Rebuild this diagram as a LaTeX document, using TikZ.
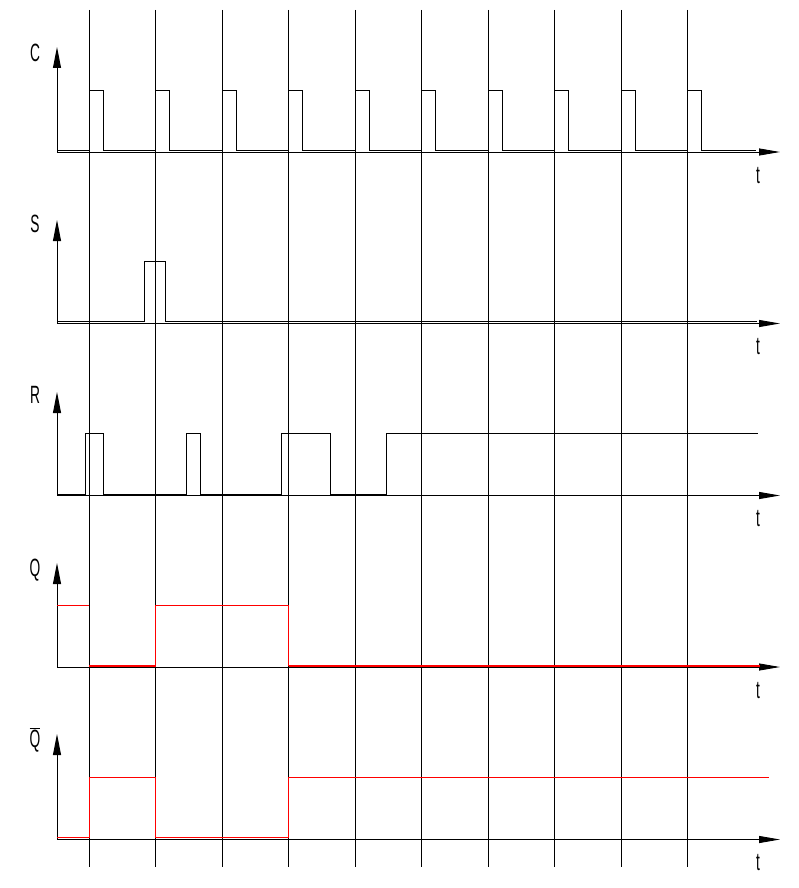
\documentclass[tikz,border=0pt]{standalone}
\usepackage{fontspec}
\setmainfont{Liberation Sans}
\usetikzlibrary{arrows.meta}
\begin{document}
\begin{tikzpicture}[x=1pt,y=-1pt,
  gridline/.style={black,line width=0.9pt},
  haxis/.style={black,line width=0.9pt,-{Triangle[length=21pt,width=7pt]}},
  vaxis/.style={black,line width=0.9pt,-{Triangle[length=21pt,width=8pt]}},
  sig/.style={black,line width=0.9pt},
  qsig/.style={red,line width=1pt},
  lbl/.style={font=\fontsize{25}{25}\selectfont,anchor=base,inner sep=0pt}]
\useasboundingbox (0,0) rectangle (798,888);
\fill[white] (0,0) rectangle (798,888);
% vertical clock grid lines
\foreach \k in {0,...,9} \draw[gridline] ({89+66.5*\k},10) -- ({89+66.5*\k},867);
% axes
\foreach \ax/\tp in {152/47, 323.5/220, 495.5/392, 667/563, 839.5/734} {
  \draw[haxis] (57,\ax) -- (780,\ax);
  \draw[vaxis] (57,\ax) -- (57,\tp);
  \node[lbl] (t\ax) at (758,\ax+31) {\scalebox{0.55}[1]{t}};
}
% labels
\node[lbl] (lc) at (35,62) {\scalebox{0.55}[1]{C}};
\node[lbl] (ls) at (35,232) {\scalebox{0.55}[1]{S}};
\node[lbl] (lr) at (35,403) {\scalebox{0.55}[1]{R}};
\node[lbl] (lq) at (35,576) {\scalebox{0.55}[1]{Q}};
\node[lbl] (lqb) at (35,747) {\scalebox{0.55}[1]{$\overline{\hbox{Q}}$}};
% C
\draw[sig] (57,150) \foreach \k in {0,...,9} { -- ({89+66.5*\k},150) -- ({89+66.5*\k},90) -- ({103+66.5*\k},90) -- ({103+66.5*\k},150) } -- (756,150);
% S
\draw[sig] (57,321.5) -- (144.3,321.5) -- (144.3,261.3) -- (165,261.3) -- (165,321.5) -- (757,321.5);
% R
\draw[sig] (57,494) -- (85.3,494) -- (85.3,433) -- (103.3,433) -- (103.3,494)
  -- (186.7,494) -- (186.7,433) -- (200.3,433) -- (200.3,494)
  -- (281.7,494) -- (281.7,433) -- (330.3,433) -- (330.3,494)
  -- (386.7,494) -- (386.7,433) -- (757.7,433);
% Q
\draw[qsig] (57,605.3) -- (89,605.3);
\draw[qsig,line width=1.5pt] (89,665.8) -- (155.5,665.8);
\draw[qsig] (155.5,665.8) -- (155.5,605.3) -- (288.5,605.3) -- (288.5,665.8);
\draw[qsig,line width=1.5pt] (288.5,665.8) -- (760,665.8);
% Q bar
\draw[qsig] (57,837.3) -- (89,837.3) -- (89,777.3) -- (155.5,777.3) -- (155.5,837.3)
  -- (288.5,837.3) -- (288.5,777.3) -- (769,777.3);
\end{tikzpicture}
\end{document}
